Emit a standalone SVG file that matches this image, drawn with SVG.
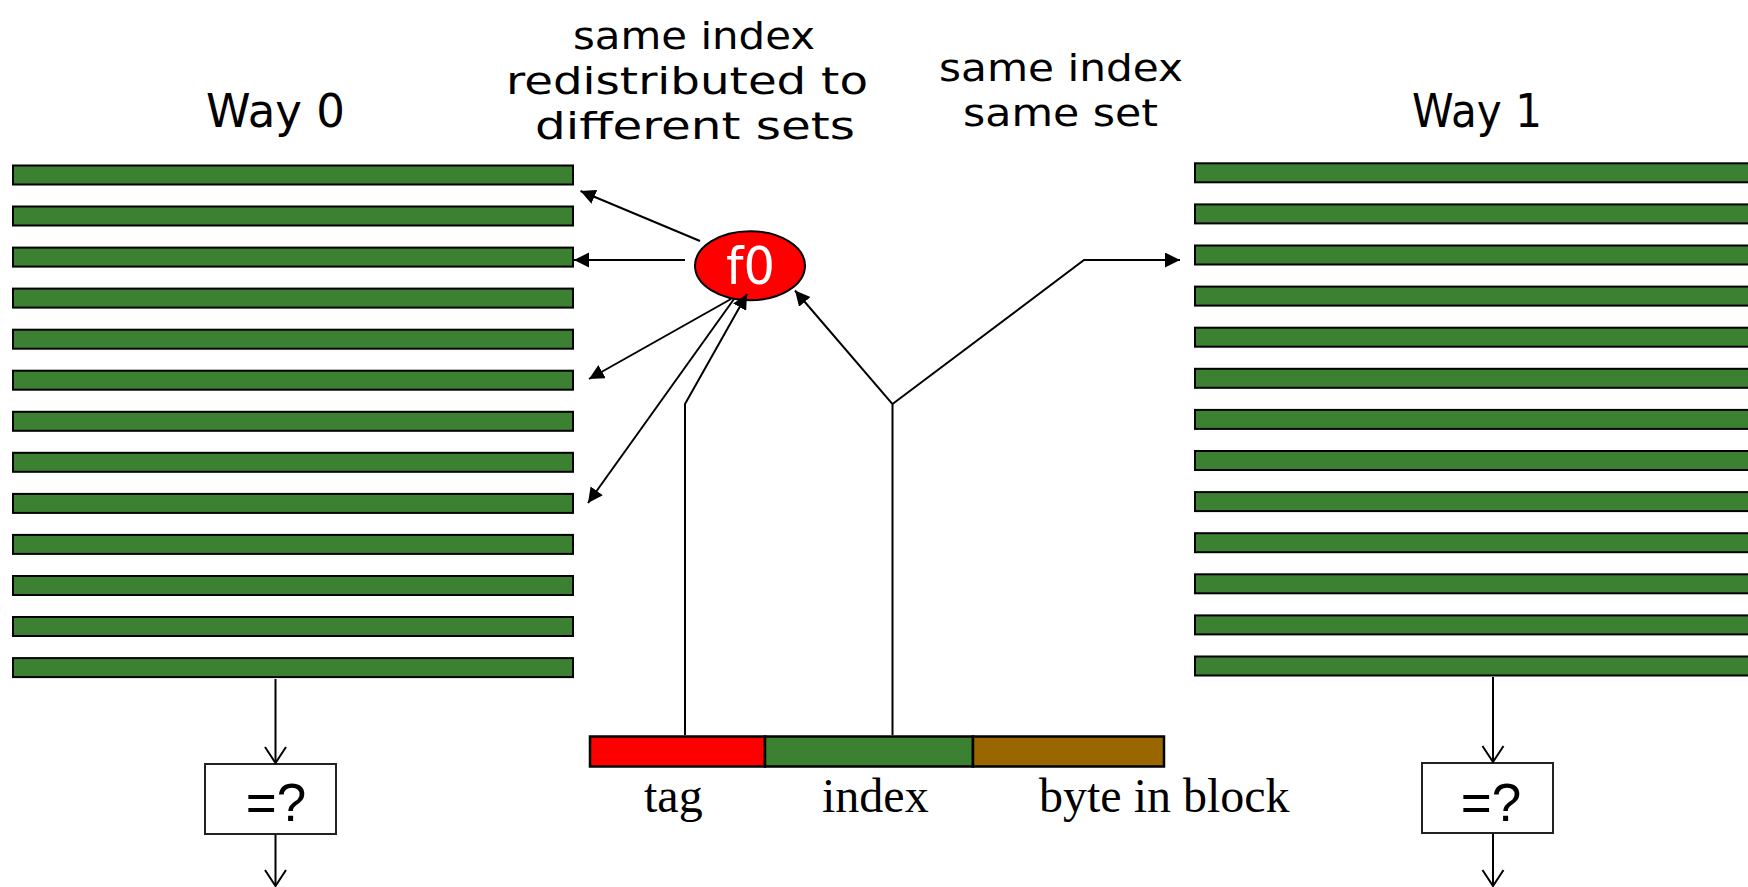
<svg xmlns="http://www.w3.org/2000/svg" width="1748" height="887" viewBox="0 0 1748 887">
  <defs>
    <style>
      .bar { fill: #3c8032; stroke: #000; stroke-width: 2; }
      .hand { font-family: "DejaVu Sans", "Noto Sans", sans-serif; font-size: 46px; fill: #000; }
      .note { font-family: "DejaVu Sans", "Noto Sans", sans-serif; font-size: 38px; fill: #000; }
      .serif { font-family: "Liberation Serif", "Times New Roman", serif; font-size: 48px; fill: #000; }
      .cmp { fill: #fff; stroke: #222; stroke-width: 2; }
      .cmptext { font-family: "Liberation Sans", Arial, sans-serif; font-size: 53px; fill: #000; text-anchor: middle; }
      .wire { fill: none; stroke: #000; stroke-width: 2; }
      .arrow { marker-end: url(#solid); }
      .open { marker-end: url(#vee); }
    </style>
    <marker id="solid" markerUnits="userSpaceOnUse" markerWidth="16" markerHeight="16" refX="15" refY="7.5" orient="auto">
      <path d="M0,0 L15,7.5 L0,15 z" fill="#000"/>
    </marker>
    <marker id="vee" markerUnits="userSpaceOnUse" markerWidth="20" markerHeight="24" refX="17" refY="11.5" orient="auto" overflow="visible">
      <path d="M1,1 L17,11.5 L1,22" fill="none" stroke="#000" stroke-width="2"/>
    </marker>
  </defs>

  <rect width="1748" height="887" fill="#fff"/>

  <!-- Way 0: 13 cache lines -->
  <g id="way0">
    <text class="hand" x="206" y="127" textLength="139" lengthAdjust="spacingAndGlyphs">Way 0</text>
    <rect class="bar" x="13" y="165.5" width="560" height="19"/>
    <rect class="bar" x="13" y="206.5" width="560" height="19"/>
    <rect class="bar" x="13" y="247.6" width="560" height="19"/>
    <rect class="bar" x="13" y="288.6" width="560" height="19"/>
    <rect class="bar" x="13" y="329.7" width="560" height="19"/>
    <rect class="bar" x="13" y="370.7" width="560" height="19"/>
    <rect class="bar" x="13" y="411.8" width="560" height="19"/>
    <rect class="bar" x="13" y="452.8" width="560" height="19"/>
    <rect class="bar" x="13" y="493.9" width="560" height="19"/>
    <rect class="bar" x="13" y="534.9" width="560" height="19"/>
    <rect class="bar" x="13" y="576.0" width="560" height="19"/>
    <rect class="bar" x="13" y="617.0" width="560" height="19"/>
    <rect class="bar" x="13" y="658.1" width="560" height="19"/>
  </g>

  <!-- Way 1: 13 cache lines, running off the right edge -->
  <g id="way1">
    <text class="hand" x="1412" y="127" textLength="130" lengthAdjust="spacingAndGlyphs">Way 1</text>
    <rect class="bar" x="1195" y="163.3" width="600" height="19"/>
    <rect class="bar" x="1195" y="204.4" width="600" height="19"/>
    <rect class="bar" x="1195" y="245.5" width="600" height="19"/>
    <rect class="bar" x="1195" y="286.6" width="600" height="19"/>
    <rect class="bar" x="1195" y="327.7" width="600" height="19"/>
    <rect class="bar" x="1195" y="368.8" width="600" height="19"/>
    <rect class="bar" x="1195" y="409.9" width="600" height="19"/>
    <rect class="bar" x="1195" y="451.0" width="600" height="19"/>
    <rect class="bar" x="1195" y="492.1" width="600" height="19"/>
    <rect class="bar" x="1195" y="533.2" width="600" height="19"/>
    <rect class="bar" x="1195" y="574.3" width="600" height="19"/>
    <rect class="bar" x="1195" y="615.4" width="600" height="19"/>
    <rect class="bar" x="1195" y="656.5" width="600" height="19"/>
  </g>

  <!-- captions -->
  <g id="note-f0">
    <text class="note">
      <tspan x="573" y="49" textLength="242" lengthAdjust="spacingAndGlyphs">same index</tspan>
      <tspan x="506" y="94" textLength="362" lengthAdjust="spacingAndGlyphs">redistributed to</tspan>
      <tspan x="535" y="139" textLength="320" lengthAdjust="spacingAndGlyphs">different sets</tspan>
    </text>
  </g>
  <g id="note-way1">
    <text class="note">
      <tspan x="939" y="81" textLength="244" lengthAdjust="spacingAndGlyphs">same index</tspan>
      <tspan x="963" y="126" textLength="195" lengthAdjust="spacingAndGlyphs">same set</tspan>
    </text>
  </g>

  <!-- skewing function -->
  <g id="f0">
    <ellipse cx="750" cy="265.7" rx="55" ry="34.5" fill="#ff0000" stroke="#000" stroke-width="2"/>
    <text x="750.5" y="284" text-anchor="middle" font-family="DejaVu Sans, sans-serif" font-size="52" fill="#fff" textLength="49" lengthAdjust="spacingAndGlyphs">f0</text>
  </g>

  <!-- address fields -->
  <g id="address">
    <rect x="590" y="736.5" width="175" height="30" fill="#ff0000" stroke="#000" stroke-width="2.5"/>
    <rect x="765" y="736.5" width="208" height="30" fill="#3c8032" stroke="#000" stroke-width="2.5"/>
    <rect x="973" y="736.5" width="191" height="30" fill="#996600" stroke="#000" stroke-width="2.5"/>
    <text class="serif" x="644" y="812">tag</text>
    <text class="serif" x="822" y="812">index</text>
    <text class="serif" x="1039" y="812">byte in block</text>
  </g>

  <!-- tag comparators -->
  <g id="cmp0">
    <rect class="cmp" x="205" y="764" width="131" height="70"/>
    <text class="cmptext" x="276" y="821">=?</text>
  </g>
  <g id="cmp1">
    <rect class="cmp" x="1422" y="763" width="131" height="70"/>
    <text class="cmptext" x="1491" y="821">=?</text>
  </g>

  <!-- connectors -->
  <g id="connectors">
    <line class="wire arrow" x1="700" y1="241" x2="580.5" y2="191"/>
    <line class="wire arrow" x1="685" y1="260" x2="574" y2="260"/>
    <line class="wire arrow" x1="731" y1="299" x2="589" y2="379"/>
    <line class="wire arrow" x1="734" y1="299" x2="588" y2="503"/>
    <polyline class="wire arrow" points="685,735 685,404 747,294"/>
    <polyline class="wire arrow" points="892.5,735 892.5,404 795,290.5"/>
    <polyline class="wire arrow" points="892.5,404 1084,260 1180,260"/>
    <line class="wire open" x1="275.5" y1="679" x2="275.5" y2="763"/>
    <line class="wire open" x1="275.5" y1="835" x2="275.5" y2="886"/>
    <line class="wire open" x1="1493" y1="677" x2="1493" y2="762"/>
    <line class="wire open" x1="1493" y1="834" x2="1493" y2="886"/>
  </g>
</svg>
